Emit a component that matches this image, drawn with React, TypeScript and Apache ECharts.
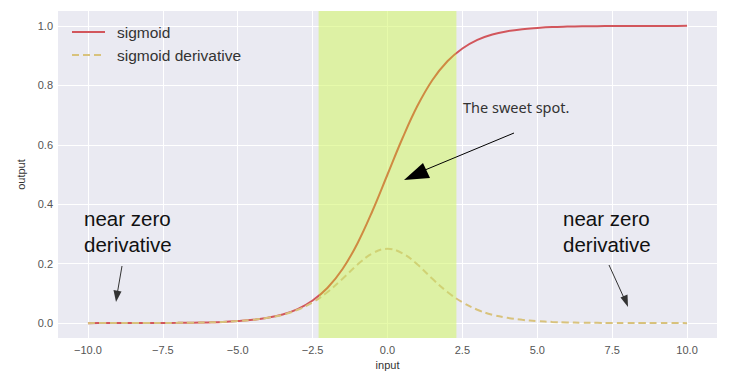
import React, { useEffect, useRef } from "react";
import * as echarts from "echarts";

const xs = [-10, -9.5, -9, -8.5, -8, -7.5, -7, -6.5, -6, -5.5, -5, -4.5, -4, -3.5, -3, -2.5, -2, -1.5, -1, -0.5, 0, 0.5, 1, 1.5, 2, 2.5, 3, 3.5, 4, 4.5, 5, 5.5, 6, 6.5, 7, 7.5, 8, 8.5, 9, 9.5, 10];
const sigmoidVals = [0.000, 0.0001, 0.0001, 0.0002, 0.0003, 0.0006, 0.0009, 0.0015, 0.0025, 0.004, 0.007, 0.011, 0.018, 0.029, 0.047, 0.076, 0.119, 0.182, 0.269, 0.378, 0.500, 0.622, 0.731, 0.818, 0.881, 0.924, 0.953, 0.971, 0.982, 0.989, 0.993, 0.996, 0.9975, 0.9985, 0.9991, 0.9994, 0.9997, 0.9998, 0.9999, 0.9999, 1.000];
const derivVals = [0.000, 0.0001, 0.0001, 0.0002, 0.0003, 0.0006, 0.0009, 0.0015, 0.0025, 0.004, 0.007, 0.011, 0.018, 0.028, 0.045, 0.070, 0.105, 0.149, 0.197, 0.235, 0.250, 0.235, 0.197, 0.149, 0.105, 0.070, 0.045, 0.028, 0.018, 0.011, 0.007, 0.004, 0.0025, 0.0015, 0.0009, 0.0006, 0.0003, 0.0002, 0.0001, 0.0001, 0.000];
const xTicks = [-10, -7.5, -5, -2.5, 0, 2.5, 5, 7.5, 10];
const yTicks = [0, 0.2, 0.4, 0.6, 0.8, 1.0];
const band = [-2.3, 2.3];
const seriesNames = ["sigmoid", "sigmoid derivative"];

const FONT = "'Liberation Sans', Arial, sans-serif";
const RED = "#D2565C";
const RED_IN = "#CF8A42";
const YEL = "#D8C27C";
const YEL_IN = "#D0D274";

function fmt(v: number) {
  const s = Math.abs(v).toFixed(1);
  return v < 0 ? "\u2212" + s : s;
}

export default function App() {
  const ref = useRef<HTMLDivElement>(null);
  useEffect(() => {
    if (!ref.current) return;
    const chart = echarts.init(ref.current, undefined, { renderer: "svg" });
    const sig = xs.map((x, i) => [x, sigmoidVals[i]]);
    const der = xs.map((x, i) => [x, derivVals[i]]);
    chart.setOption({
      animation: false,
      backgroundColor: "#ffffff",
      grid: {
        left: 58, top: 11, right: 14, bottom: 39,
        show: true, backgroundColor: "#EAEAF2", borderWidth: 0,
      },
      xAxis: {
        type: "value", min: -11, max: 11,
        name: "input", nameLocation: "middle", nameGap: 18,
        nameTextStyle: { color: "#333", fontSize: 11, fontFamily: FONT },
        axisLine: { show: false },
        axisTick: { show: false, customValues: xTicks },
        axisLabel: { customValues: xTicks, formatter: (v: number) => fmt(v), color: "#555", fontSize: 11, fontFamily: FONT, margin: 6 },
        splitLine: { show: true, lineStyle: { color: "#ffffff", width: 1 } },
      },
      yAxis: {
        type: "value", min: -0.05, max: 1.05,
        name: "output", nameLocation: "middle", nameGap: 27,
        nameTextStyle: { color: "#333", fontSize: 11, fontFamily: FONT },
        axisLine: { show: false },
        axisTick: { show: false, customValues: yTicks },
        axisLabel: { customValues: yTicks, formatter: (v: number) => v.toFixed(1), color: "#555", fontSize: 11, fontFamily: FONT, margin: 5 },
        splitLine: { show: true, lineStyle: { color: "#ffffff", width: 1 } },
      },
      visualMap: [
        {
          show: false, type: "piecewise", seriesIndex: 1, dimension: 0,
          pieces: [
            { lt: band[0], color: RED },
            { gte: band[0], lte: band[1], color: RED_IN },
            { gt: band[1], color: RED },
          ],
        },
        {
          show: false, type: "piecewise", seriesIndex: 2, dimension: 0,
          pieces: [
            { lt: band[0], color: YEL },
            { gte: band[0], lte: band[1], color: YEL_IN },
            { gt: band[1], color: YEL },
          ],
        },
      ],
      series: [
        {
          type: "line", name: "band", data: [], z: 1, silent: true,
          markArea: {
            silent: true,
            itemStyle: { color: "rgba(210,245,100,0.55)" },
            data: [[{ xAxis: band[0], yAxis: -0.05 }, { xAxis: band[1], yAxis: 1.05 }]],
          },
        },
        {
          type: "line", name: seriesNames[0], data: sig, smooth: 0.4, symbol: "none", z: 3,
          lineStyle: { width: 2 },
        },
        {
          type: "line", name: seriesNames[1], data: der, smooth: 0.4, symbol: "none", z: 4,
          lineStyle: { width: 2, type: [7, 4] },
        },
      ],
      graphic: [
        { type: "line", z: 100, shape: { x1: 72, y1: 32, x2: 105, y2: 32 }, style: { stroke: RED, lineWidth: 2 } },
        { type: "text", z: 100, x: 117, y: 32, style: { text: seriesNames[0], font: "15.5px " + FONT, fill: "#333", verticalAlign: "middle" } },
        { type: "line", z: 100, shape: { x1: 72, y1: 55, x2: 105, y2: 55 }, style: { stroke: YEL, lineWidth: 2, lineDash: [7, 4] } },
        { type: "text", z: 100, x: 117, y: 55, style: { text: seriesNames[1], font: "15.5px " + FONT, fill: "#333", verticalAlign: "middle" } },
        { type: "text", z: 100, left: 84, top: 205, style: { text: "near zero\nderivative", font: "20.5px " + FONT, fill: "#111", lineHeight: 26 } },
        { type: "text", z: 100, left: 563, top: 205, style: { text: "near zero\nderivative", font: "20.5px " + FONT, fill: "#111", lineHeight: 26 } },
        { type: "line", z: 100, shape: { x1: 122, y1: 266, x2: 117.5, y2: 292 }, style: { stroke: "#333", lineWidth: 1 } },
        { type: "polygon", z: 100, shape: { points: [[116, 302], [113.5, 290], [121.5, 291.5]] }, style: { fill: "#333" } },
        { type: "line", z: 100, shape: { x1: 609, y1: 265, x2: 624, y2: 298 }, style: { stroke: "#333", lineWidth: 1 } },
        { type: "polygon", z: 100, shape: { points: [[628, 307], [620.5, 297.5], [627.5, 294.5]] }, style: { fill: "#333" } },
        { type: "text", z: 100, left: 463, top: 99, style: { text: "The sweet spot.", font: "14.5px 'Noto Sans', 'Open Sans', sans-serif", fill: "#333" } },
        { type: "line", z: 100, shape: { x1: 514, y1: 133, x2: 425, y2: 170 }, style: { stroke: "#000", lineWidth: 1 } },
        { type: "polygon", z: 100, shape: { points: [[404, 180], [423, 163], [430, 178]] }, style: { fill: "#000" } },
      ],
    });
    return () => chart.dispose();
  }, []);
  return <div ref={ref} style={{ width: 731, height: 377, position: "absolute", left: 0, top: 0 }} />;
}
